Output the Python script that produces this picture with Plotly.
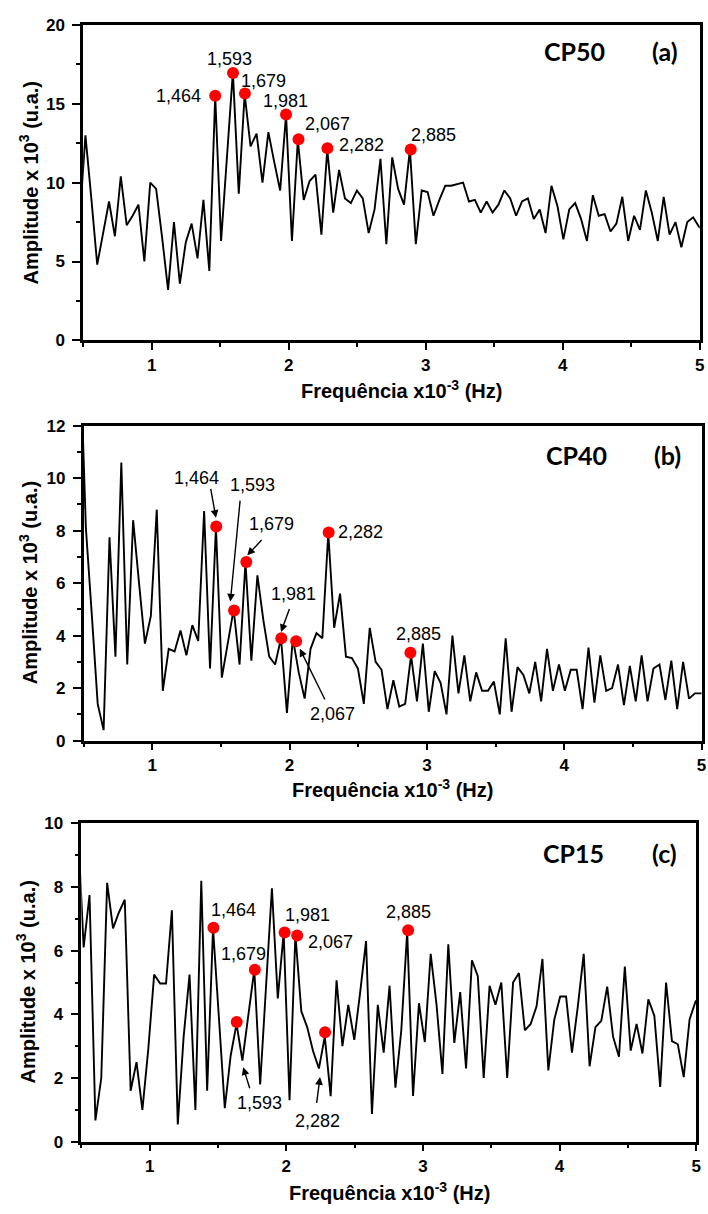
import plotly.graph_objects as go

# ---------------- data ----------------
freq = [0.474, 0.517, 0.560, 0.603, 0.646, 0.689, 0.732, 0.775, 0.818, 0.861,
        0.904, 0.947, 0.990, 1.033, 1.077, 1.120, 1.163, 1.206, 1.249, 1.292,
        1.335, 1.378, 1.421, 1.464, 1.507, 1.550, 1.593, 1.636, 1.679, 1.722,
        1.766, 1.809, 1.852, 1.895, 1.938, 1.981, 2.024, 2.067, 2.110, 2.153,
        2.196, 2.239, 2.282, 2.325, 2.368, 2.411, 2.454, 2.498, 2.541, 2.584,
        2.627, 2.670, 2.713, 2.756, 2.799, 2.842, 2.885, 2.928, 2.971, 3.014,
        3.057, 3.100, 3.143, 3.186, 3.230, 3.273, 3.316, 3.359, 3.402, 3.445,
        3.488, 3.531, 3.574, 3.617, 3.660, 3.703, 3.746, 3.789, 3.832, 3.875,
        3.918, 3.962, 4.005, 4.048, 4.091, 4.134, 4.177, 4.220, 4.263, 4.306,
        4.349, 4.392, 4.435, 4.478, 4.521, 4.564, 4.607, 4.650, 4.694, 4.737,
        4.780, 4.823, 4.866, 4.909, 4.952, 4.995, 5.038]

amp_cp50 = [7.5, 13.0, 9.0, 4.8, 6.8, 8.8, 6.6, 10.4, 7.3, 7.9,
            8.6, 5.0, 10.0, 9.6, 6.5, 3.2, 7.5, 3.6, 6.2, 7.4,
            5.2, 8.9, 4.4, 15.5, 6.3, 11.5, 17.0, 9.3, 15.6, 12.3,
            13.1, 10.0, 13.2, 11.3, 9.5, 14.3, 6.3, 12.7, 8.9, 10.1,
            10.5, 6.7, 12.1, 8.1, 10.8, 9.0, 8.7, 9.5, 9.0, 6.8,
            8.3, 11.5, 6.1, 11.6, 9.6, 8.6, 12.1, 6.1, 9.5, 9.4,
            7.9, 8.9, 9.8, 9.8, 9.9, 10.0, 8.8, 8.9, 8.1, 8.8,
            8.1, 8.6, 9.5, 9.0, 7.9, 8.8, 9.0, 7.7, 8.3, 6.8,
            9.8, 8.5, 6.4, 8.3, 8.7, 7.7, 6.3, 9.2, 7.9, 8.0,
            6.9, 7.4, 9.1, 6.3, 7.9, 7.0, 9.5, 8.1, 6.3, 9.1,
            6.7, 7.5, 5.9, 7.5, 7.8, 7.2, 6.9]

amp_cp40 = [15.0, 8.1, 4.8, 1.4, 0.4, 7.75, 3.2, 10.6, 2.9, 8.4,
            6.0, 3.7, 4.75, 8.8, 1.9, 3.5, 3.4, 4.2, 3.25, 4.4,
            3.8, 8.75, 2.75, 8.15, 2.4, 3.7, 5.0, 2.9, 6.8, 3.05,
            6.3, 4.6, 3.2, 2.9, 3.9, 1.06, 3.9, 2.6, 1.6, 3.5,
            4.1, 3.9, 7.9, 4.3, 5.6, 3.2, 3.15, 2.75, 1.4, 4.3,
            3.0, 2.7, 1.2, 2.3, 1.3, 1.4, 3.25, 1.5, 3.7, 1.1,
            2.65, 2.2, 1.0, 4.0, 1.8, 3.25, 1.5, 2.6, 1.9, 1.9,
            2.25, 1.0, 3.9, 1.1, 2.8, 2.5, 1.8, 3.0, 1.5, 3.5,
            1.9, 2.9, 1.9, 2.7, 2.7, 1.2, 3.55, 1.45, 3.25, 1.9,
            2.0, 2.9, 1.35, 2.85, 1.5, 3.25, 1.5, 2.75, 2.9, 1.55,
            3.05, 1.2, 3.0, 1.6, 1.8, 1.8, 1.8]

amp_cp15 = [10.0, 6.1, 7.75, 0.67, 2.0, 8.13, 6.7, 7.2, 7.6, 1.6,
            2.5, 1.0, 2.9, 5.25, 4.97, 4.97, 7.27, 0.54, 3.3, 5.25,
            1.0, 8.2, 1.6, 6.7, 3.9, 1.05, 2.7, 3.7, 2.55, 4.0,
            5.4, 1.8, 4.9, 7.96, 4.5, 6.57, 1.3, 6.5, 4.1, 3.6,
            2.85, 2.3, 3.3, 1.43, 5.07, 3.0, 4.3, 3.2, 4.7, 6.3,
            0.87, 4.3, 2.8, 4.9, 1.7, 3.5, 6.6, 1.44, 4.35, 3.13,
            5.9, 4.3, 2.13, 6.2, 3.1, 4.7, 2.3, 5.7, 5.2, 2.0,
            4.9, 4.3, 5.0, 2.0, 5.0, 5.3, 3.5, 3.7, 4.25, 5.74,
            2.24, 3.84, 4.56, 4.56, 2.8, 4.25, 5.9, 2.37, 3.6, 3.8,
            4.87, 3.3, 2.67, 5.5, 2.86, 3.7, 2.77, 4.47, 3.96, 1.72,
            5.0, 3.16, 3.06, 2.03, 3.84, 4.4, 4.6]

peak_labels = ["1,464", "1,593", "1,679", "1,981", "2,067", "2,282", "2,885"]
peak_freq_cp50 = [1.464, 1.594, 1.681, 1.981, 2.072, 2.283, 2.891]
peak_amp_cp50 = [15.5, 16.95, 15.64, 14.31, 12.75, 12.17, 12.1]
peak_freq_cp40 = [1.466, 1.596, 1.685, 1.940, 2.048, 2.285, 2.880]
peak_amp_cp40 = [8.16, 4.96, 6.81, 3.90, 3.79, 7.93, 3.35]
peak_freq_cp15 = [1.467, 1.637, 1.770, 1.988, 2.080, 2.284, 2.892]
peak_amp_cp15 = [6.72, 3.76, 5.40, 6.57, 6.48, 3.44, 6.64]

panel_names = ["CP50", "CP40", "CP15"]
panel_letters = ["(a)", "(b)", "(c)"]
y_max = [20, 12, 10]
y_major = [5, 2, 2]
y_minor = [2.5, 1, 1]
x_ticks = [1, 2, 3, 4, 5]

# ---------------- layout helpers ----------------
W, H = 708, 1214
x_domains = [[0.11822, 0.99534], [0.11886, 0.99788], [0.11568, 0.99025]]
y_domains = [[0.72265, 0.98682], [0.38773, 0.65132], [0.05214, 0.31853]]

# label text positions (data coords) per panel
label_pos = [
    [(1.199, 15.51), (1.572, 17.82), (1.819, 16.45), (1.975, 15.20), (2.283, 13.71), (2.533, 12.39), (3.054, 13.02)],
    [(1.320, 10.0), (1.728, 9.74), (1.866, 8.24), (2.032, 5.58), (2.314, 1.0), (2.520, 7.96), (2.939, 4.06)],
    [(1.616, 7.29), (1.805, 1.21), (1.689, 5.90), (2.154, 7.13), (2.321, 6.28), (2.227, 0.66), (2.895, 7.20)],
]
# arrows: (panel index, tail x, tail y, head x, head y)
arrows = [
    (1, 1.424, 9.65, 1.464, 8.49),
    (1, 1.641, 9.20, 1.569, 5.30),
    (1, 1.807, 7.70, 1.692, 7.06),
    (1, 2.003, 5.07, 1.938, 4.14),
    (1, 2.263, 1.51, 2.075, 3.50),
    (2, 1.736, 1.63, 1.685, 2.34),
    (2, 2.221, 1.17, 2.247, 2.03),
]
title_pos = [(0.797, 0.944, 0.916), (0.797, 0.945, 0.907), (0.801, 0.948, 0.908)]
xtitle_pos = [(0.5706, 0.6812), (0.5579, 0.3476), (0.5537, 0.0107)]
ytitle_x = [0.041, 0.040, 0.037]

amps = [amp_cp50, amp_cp40, amp_cp15]
pk_f = [peak_freq_cp50, peak_freq_cp40, peak_freq_cp15]
pk_a = [peak_amp_cp50, peak_amp_cp40, peak_amp_cp15]

FONT = "Liberation Sans, Arial, sans-serif"

fig = go.Figure()
annotations = []
layout_axes = {}

for i in range(3):
    sfx = "" if i == 0 else str(i + 1)
    xa, ya = "x" + sfx, "y" + sfx
    fig.add_trace(go.Scatter(x=freq, y=amps[i], mode="lines",
                             line=dict(color="black", width=1.9),
                             xaxis=xa, yaxis=ya, showlegend=False,
                             hoverinfo="skip"))
    fig.add_trace(go.Scatter(x=pk_f[i], y=pk_a[i], mode="markers",
                             marker=dict(color="#ff0000", size=12, line=dict(width=0)),
                             xaxis=xa, yaxis=ya, showlegend=False))

    layout_axes["xaxis" + sfx] = dict(
        domain=x_domains[i], range=[0.5, 5], anchor=ya,
        tickmode="array", tickvals=x_ticks, ticktext=[str(v) for v in x_ticks],
        ticks="outside", ticklen=7, tickwidth=2, tickcolor="black",
        minor=dict(ticks="outside", ticklen=4, tickwidth=2, tickcolor="black",
                   tickmode="array", tickvals=[0.5, 1.5, 2.5, 3.5, 4.5]),
        showline=True, linewidth=2.5, linecolor="black", mirror=True,
        showgrid=False, zeroline=False,
        tickfont=dict(family=FONT, size=17, color="black", weight="bold"),
    )
    layout_axes["yaxis" + sfx] = dict(
        domain=y_domains[i], range=[0, y_max[i]], anchor=xa,
        tick0=0, dtick=y_major[i],
        ticks="outside", ticklen=8, tickwidth=2, tickcolor="black",
        minor=dict(ticks="outside", ticklen=4, tickwidth=2, tickcolor="black",
                   dtick=y_minor[i]),
        showline=True, linewidth=2.5, linecolor="black", mirror=True,
        showgrid=False, zeroline=False, ticklabelstandoff=4,
        tickfont=dict(family=FONT, size=17, color="black", weight="bold"),
    )

    # peak labels
    for lab, (lx, ly) in zip(peak_labels, label_pos[i]):
        annotations.append(dict(x=lx, y=ly, xref=xa, yref=ya, text=lab,
                                showarrow=False, xanchor="center", yanchor="middle",
                                font=dict(family=FONT, size=18, color="black")))
    # panel titles
    tx, lx_, ty = title_pos[i]
    annotations.append(dict(x=tx, y=ty, xref=xa + " domain", yref=ya + " domain",
                            text="<b>" + panel_names[i] + "</b>", showarrow=False,
                            xanchor="center", yanchor="middle",
                            font=dict(family="Lato, sans-serif", size=25, color="black")))
    annotations.append(dict(x=lx_, y=ty, xref=xa + " domain", yref=ya + " domain",
                            text="<b>" + panel_letters[i] + "</b>", showarrow=False,
                            xanchor="center", yanchor="middle",
                            font=dict(family="Lato, sans-serif", size=25, color="black")))
    # axis titles
    annotations.append(dict(x=xtitle_pos[i][0], y=xtitle_pos[i][1], xref="paper", yref="paper",
                            text="<b>Frequência x10<sup>-3</sup> (Hz)</b>", showarrow=False,
                            xanchor="center", yanchor="middle",
                            font=dict(family=FONT, size=20, color="black")))
    annotations.append(dict(x=ytitle_x[i], y=sum(y_domains[i]) / 2, xref="paper", yref="paper",
                            text="<b>Amplitude x 10<sup>3</sup> (u.a.)</b>", showarrow=False,
                            textangle=-90, xanchor="center", yanchor="middle",
                            font=dict(family=FONT, size=20, color="black")))

for (p, tx, ty, hx, hy) in arrows:
    sfx = "" if p == 0 else str(p + 1)
    annotations.append(dict(x=hx, y=hy, ax=tx, ay=ty, xref="x" + sfx, yref="y" + sfx,
                            axref="x" + sfx, ayref="y" + sfx, text="",
                            showarrow=True, arrowhead=2, arrowsize=1.1,
                            arrowwidth=1.4, arrowcolor="black", standoff=0))

fig.update_layout(
    width=W, height=H,
    margin=dict(l=0, r=0, t=0, b=0),
    paper_bgcolor="white", plot_bgcolor="white",
    showlegend=False,
    annotations=annotations,
    **layout_axes,
)

fig.write_html("out.html")
